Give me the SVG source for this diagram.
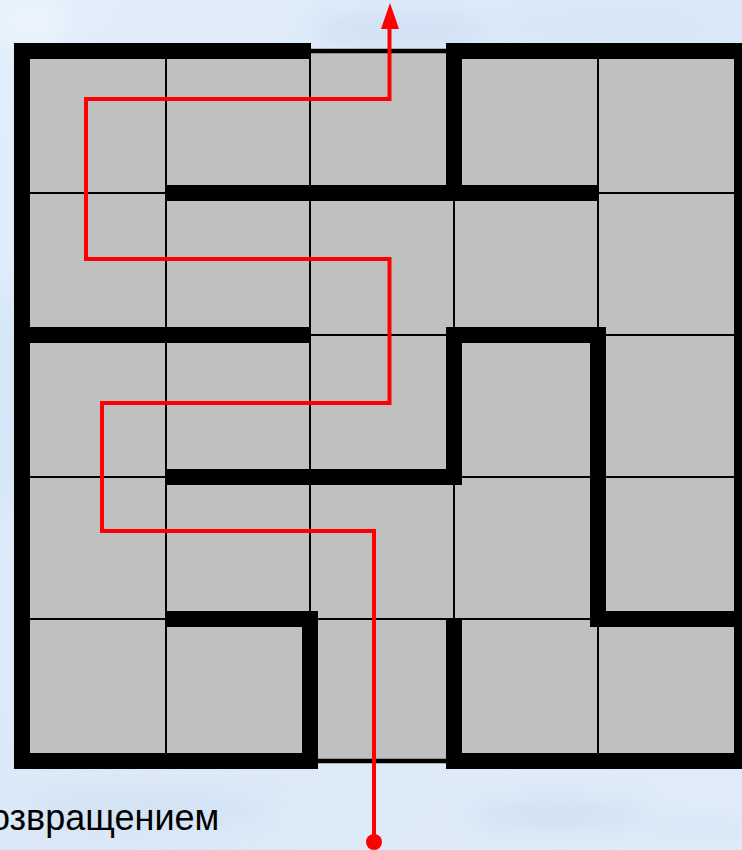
<svg xmlns="http://www.w3.org/2000/svg" width="742" height="850" viewBox="0 0 742 850">
  <defs>
    <linearGradient id="sky" x1="0" y1="0" x2="1" y2="1">
      <stop offset="0" stop-color="#e2eefb"/>
      <stop offset="0.5" stop-color="#dbe8f7"/>
      <stop offset="1" stop-color="#e0ecf9"/>
    </linearGradient>
    <filter id="blur" x="-50%" y="-50%" width="200%" height="200%">
      <feGaussianBlur stdDeviation="12"/>
    </filter>
    <style>
      .wall { fill: #000000; }
      .grid { stroke: #000000; stroke-width: 2; fill: none; }
      .path { stroke: #ff0000; stroke-width: 4; fill: none; stroke-linejoin: miter; }
      .label { font-family: "Liberation Sans", Arial, sans-serif; font-size: 36px; fill: #000000; }
    </style>
  </defs>

  <g id="background">
    <rect x="0" y="0" width="742" height="850" fill="url(#sky)"/>
    <g filter="url(#blur)" opacity="0.6">
      <ellipse cx="400" cy="30" rx="90" ry="18" fill="#c8dcf2"/>
      <ellipse cx="30" cy="20" rx="40" ry="30" fill="#f0f7ff"/>
      <ellipse cx="600" cy="25" rx="110" ry="14" fill="#d2e2f4"/>
      <ellipse cx="150" cy="810" rx="120" ry="20" fill="#cfe0f2"/>
      <ellipse cx="560" cy="815" rx="90" ry="16" fill="#c9dbef"/>
      <ellipse cx="8" cy="400" rx="14" ry="120" fill="#cde0f3"/>
      <ellipse cx="700" cy="830" rx="60" ry="12" fill="#d3e3f4"/>
    </g>
  </g>

  <g id="board">
    <rect x="22" y="51" width="720" height="710" fill="#c0c0c0" stroke="#000000" stroke-width="4.5"/>
    <g class="grid">
      <line x1="166" y1="51" x2="166" y2="761"/>
      <line x1="310" y1="51" x2="310" y2="761"/>
      <line x1="454" y1="51" x2="454" y2="761"/>
      <line x1="598" y1="51" x2="598" y2="761"/>
      <line x1="22" y1="193" x2="742" y2="193"/>
      <line x1="22" y1="335" x2="742" y2="335"/>
      <line x1="22" y1="477" x2="742" y2="477"/>
      <line x1="22" y1="619" x2="742" y2="619"/>
    </g>
  </g>

  <g id="walls">
    <rect class="wall" x="14" y="43" width="297" height="16"/>
    <rect class="wall" x="446" y="43" width="296" height="16"/>
    <rect class="wall" x="446" y="43" width="16" height="158"/>
    <rect class="wall" x="165" y="185" width="434" height="16"/>
    <rect class="wall" x="14" y="43" width="16" height="726"/>
    <rect class="wall" x="734" y="43" width="16" height="726"/>
    <rect class="wall" x="14" y="327" width="297" height="16"/>
    <rect class="wall" x="446" y="327" width="16" height="158"/>
    <rect class="wall" x="446" y="327" width="160" height="16"/>
    <rect class="wall" x="590" y="327" width="16" height="300"/>
    <rect class="wall" x="590" y="611" width="152" height="16"/>
    <rect class="wall" x="165" y="469" width="297" height="16"/>
    <rect class="wall" x="165" y="611" width="153" height="16"/>
    <rect class="wall" x="302" y="611" width="16" height="158"/>
    <rect class="wall" x="14" y="753" width="304" height="16"/>
    <rect class="wall" x="446" y="618" width="16" height="151"/>
    <rect class="wall" x="446" y="753" width="296" height="16"/>
  </g>

  <g id="connectors">
    <path class="path" d="M374,841 V531 H102 V403 H389.5 V259 H86 V99 H389.5 V27"/>
    <polygon points="390,3 381,29 399,29" fill="#ff0000"/>
    <circle cx="374" cy="842" r="8" fill="#ff0000"/>
  </g>

  <g id="caption">
    <text class="label" x="-10" y="830">озвращением</text>
  </g>
</svg>
